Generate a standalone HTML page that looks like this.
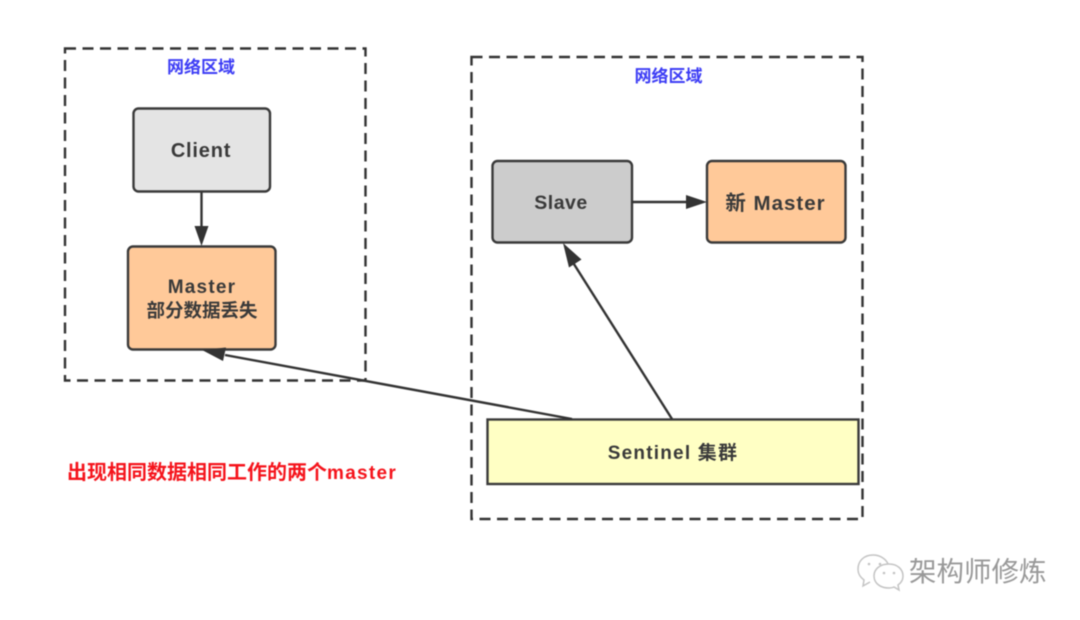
<!DOCTYPE html>
<html><head><meta charset="utf-8">
<style>
html,body{margin:0;padding:0;background:#fff;}
svg{display:block;filter:blur(0.45px);}
text{font-family:"Liberation Sans","Noto Sans CJK SC",sans-serif;font-weight:700;}
</style></head>
<body>
<svg width="1080" height="620" viewBox="0 0 1080 620" xmlns="http://www.w3.org/2000/svg">
<rect width="1080" height="620" fill="#fff"/>
<g fill="none" stroke="#333" stroke-width="2.4" stroke-dasharray="11 6.5">
<rect x="65" y="48.500" width="300.500" height="332"/>
<rect x="471.500" y="57" width="391" height="462"/>
</g>
<text x="201" y="73" font-size="17" fill="#3d3df5" text-anchor="middle">网络区域</text>
<text x="668.500" y="82" font-size="17" fill="#3d3df5" text-anchor="middle">网络区域</text>

<g stroke="#3a3a3a" stroke-width="2.400">
<rect x="133.500" y="108.500" width="136.500" height="83" rx="5" fill="#e4e4e4"/>
<rect x="128" y="246.500" width="147.500" height="103" rx="5" fill="#ffc999"/>
<rect x="492.500" y="161" width="139.500" height="81.500" rx="5" fill="#cccccc"/>
<rect x="707" y="161" width="138.500" height="81.500" rx="5" fill="#ffc999"/>
<rect x="487.500" y="419.500" width="371" height="64.500" fill="#ffffc4"/>
</g>

<g stroke="#333" stroke-width="2.400" fill="none">
<line x1="201.500" y1="192" x2="201.500" y2="230"/>
<line x1="632" y1="202" x2="690" y2="202"/>
<line x1="672" y1="419" x2="572" y2="261"/>
<line x1="572" y1="419" x2="225" y2="355"/>
</g>
<g fill="#333" stroke="none">
<polygon points="201.500,246 194.500,226 208.500,226"/>
<polygon points="707,202 686,195 686,209"/>
<polygon points="563,243 581.500,259.500 569,267.500"/>
<polygon points="202,350 226,347.500 223,361"/>
</g>

<g fill="#3a3a3a" text-anchor="middle">
<text x="201" y="157" font-size="20" letter-spacing="0.800">Client</text>
<text x="202" y="293" font-size="19" letter-spacing="1.200">Master</text>
<text x="202" y="317" font-size="18.500">部分数据丢失</text>
<text x="561" y="209" font-size="19.500" letter-spacing="0.500">Slave</text>
<text x="775.500" y="210" font-size="20.500" letter-spacing="1">新 Master</text>
<text x="673" y="459" font-size="19" letter-spacing="1.200">Sentinel 集群</text>
</g>

<text x="67" y="479" font-size="20" fill="#f5141c">出现相同数据相同工作的两个<tspan font-size="19" letter-spacing="1.300">master</tspan></text>

<g fill="none" stroke="#c4c4c4" stroke-width="1.500">
<path d="M873 555c-9 0-15 6-15 14 0 5 2 8 6 11l-1 6 7-4"/>
<path d="M873 555c7 0 13 4 15 9"/>
<path d="M889 564c-9 0-15 5-15 12 0 7 6 12 15 12 2 0 3 0 5-1l5 3-1-5c3-2 5-5 5-9 0-7-6-12-14-12z"/>
</g>
<g fill="#c4c4c4">
<circle cx="869" cy="564" r="1.300"/><circle cx="880" cy="564" r="1.300"/>
<circle cx="884" cy="573" r="1.300"/><circle cx="894" cy="573" r="1.300"/>
</g>
<text x="909" y="581" font-size="27.500" fill="#999" style="font-weight:400">架构师修炼</text>
</svg>
</body></html>
